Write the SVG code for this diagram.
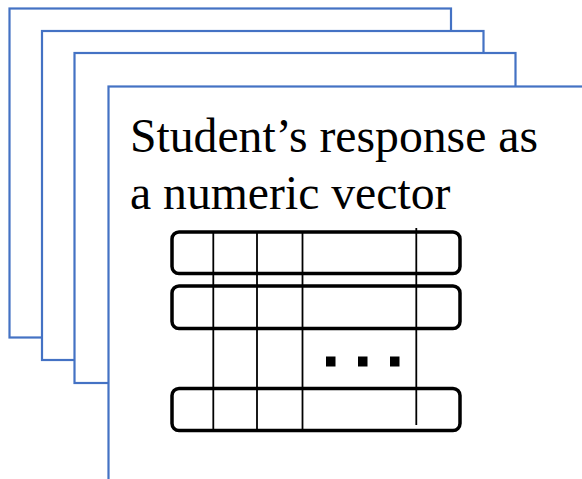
<svg xmlns="http://www.w3.org/2000/svg" width="582" height="479" viewBox="0 0 582 479">
  <style>
    .page { fill: #ffffff; stroke: #4472C4; stroke-width: 2.2; }
    .row { fill: none; stroke: #000000; stroke-width: 3.5; }
    .col { stroke: #000000; stroke-width: 1.8; }
    .dot { fill: #000000; }
    .label { font-family: "Liberation Serif", "Times New Roman", serif; font-size: 47.7px; fill: #000000; }
  </style>
  <g id="page1"><rect class="page" x="9.5" y="8.5" width="441.5" height="329"/></g>
  <g id="page2"><rect class="page" x="42" y="31" width="441.5" height="329"/></g>
  <g id="page3"><rect class="page" x="74.5" y="53" width="441" height="330"/></g>
  <g id="page4">
    <rect class="page" x="108.5" y="86.5" width="490" height="410"/>
    <text class="label" x="130" y="151.5">Student’s response as</text>
    <text class="label" x="130" y="209">a numeric vector</text>
  </g>
  <g id="vector">
    <g id="columns">
      <line class="col" x1="213.3" y1="232" x2="213.3" y2="430"/>
      <line class="col" x1="257" y1="232" x2="257" y2="430"/>
      <line class="col" x1="302.5" y1="232" x2="302.5" y2="430"/>
      <line class="col" x1="416.3" y1="228" x2="416.3" y2="425"/>
    </g>
    <g id="rows">
      <rect class="row" x="172" y="232" width="288" height="41.5" rx="7"/>
      <rect class="row" x="172" y="286" width="288" height="42.5" rx="7"/>
      <rect class="row" x="172" y="388.5" width="288" height="42" rx="7"/>
    </g>
    <g id="ellipsis">
      <rect class="dot" x="326" y="356.5" width="9.5" height="10"/>
      <rect class="dot" x="358" y="356.5" width="9.5" height="10"/>
      <rect class="dot" x="390" y="356.5" width="9.5" height="10"/>
    </g>
  </g>
</svg>
